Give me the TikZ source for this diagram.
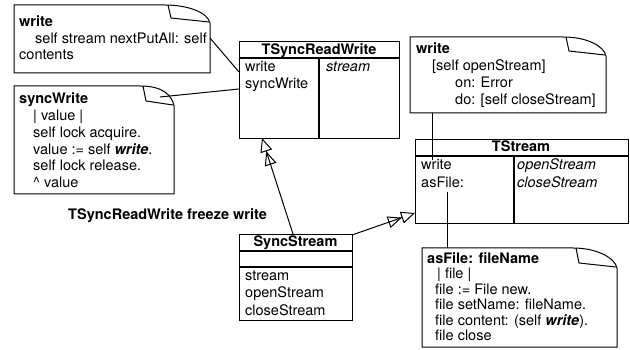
\documentclass[tikz,border=0pt]{standalone}
\usepackage{fontspec}
\setmainfont{TeX Gyre Heros}
\usetikzlibrary{arrows.meta}

\tikzset{
    boxline/.style={line width=1.1pt},
    noteline/.style={line width=1pt},
    link/.style={line width=1pt},
    gen/.style={line width=1pt,
        -{Triangle[open,length=14pt,width=12pt]Triangle[open,length=14pt,width=12pt]}},
    txt/.style={anchor=base west, inner sep=0pt, font=\fontsize{14.5}{17}\selectfont},
    ttl/.style={anchor=base, inner sep=0pt, font=\fontsize{14.5}{17}\selectfont\bfseries},
    classbox/.style={draw, boxline, anchor=north west, inner sep=0pt},
}

% note with folded corner: left, top, right, bottom, fold start, fold depth
\newcommand{\notebox}[6]{%
    \draw[noteline] (#1,#2) -- (#5,#2) .. controls (#5+24,#2) and (#3-2,#2+#6-10) .. (#3,#2+#6)
        -- (#3,#4) -- (#1,#4) -- cycle;
    \draw[noteline] (#5+3,#2) -- (#5+6,#2+#6-5) -- (#3-1,#2+#6-1);}

\begin{document}
\begin{tikzpicture}[x=1pt,y=-1pt]
            \useasboundingbox (0,0) rectangle (630,350);

            % notes
            \notebox{14}{5}{210}{73}{165}{18}
            \node[txt] (n1-0) at (19,27) {\textbf{write}};
            \node[txt] (n1-1) at (35,44) {self stream nextPutAll: self};
            \node[txt] (n1-2) at (19,60) {contents};

            \notebox{14}{86}{174}{194}{140}{20}
            \node[txt] (n2-0) at (19,104) {\textbf{syncWrite}};
            \foreach \t [count=\i] in {\textbar{} value \textbar, self lock acquire.,
                    value := self \textbf{\textit{write}}., self lock release., \textasciicircum{} value}
                \node[txt] (n2-\i) at (33,104+16.7*\i) {\t};

            \notebox{410}{37}{606}{113}{563}{19}
            \node[txt] (n3-0) at (416,54) {\textbf{write}};
            \node[txt] (n3-1) at (432,71) {[self openStream]};
            \node[txt] (n3-2) at (455,88) {on: Error};
            \node[txt] (n3-3) at (455,105) {do: [self closeStream]};

            \notebox{422}{248}{617}{347}{573}{20}
            \node[txt] (n4-0) at (427,263) {\textbf{asFile: fileName}};
            \node[txt] (n4-1) at (437,279) {\textbar{} file \textbar};
            \foreach \t [count=\i] in {file := File new., file setName: fileName.,
                    file content: (self \textbf{\textit{write}})., file close}
                \node[txt] (n4-\i) at (435,279+15.4*\i) {\t};

            % classes
            \node[classbox, minimum width=160pt, minimum height=97pt] (tsrw) at (239,41) {};
            \draw[boxline] (239,58) -- (399,58);
            \draw[boxline] (319,58) -- (319,138);
            \node[ttl] (tsrw-t) at (319,55) {TSyncReadWrite};
            \node[txt] (tsrw-1) at (245,72) {write};
            \node[txt] (tsrw-2) at (245,89) {syncWrite};
            \node[txt] (tsrw-3) at (326,72) {\textit{stream}};

            \node[classbox, minimum width=213pt, minimum height=84pt] (ts) at (415,139) {};
            \draw[boxline] (415,156) -- (628,156);
            \draw[boxline] (514,156) -- (514,223);
            \node[ttl] (ts-t) at (521,152) {TStream};
            \node[txt] (ts-1) at (421,170) {write};
            \node[txt] (ts-2) at (421,188) {asFile:};
            \node[txt] (ts-3) at (517,170) {\textit{openStream}};
            \node[txt] (ts-4) at (517,188) {\textit{closeStream}};

            \node[classbox, minimum width=113pt, minimum height=86pt] (ss) at (239,234) {};
            \draw[boxline] (239,251) -- (352,251);
            \draw[boxline] (239,267) -- (352,267);
            \node[ttl] (ss-t) at (295.5,247) {SyncStream};
            \node[txt] (ss-1) at (245,280) {stream};
            \node[txt] (ss-2) at (245,297.5) {openStream};
            \node[txt] (ss-3) at (245,315) {closeStream};

            \node[txt, font=\fontsize{14.5}{17}\selectfont\bfseries] (frz) at (68,220) {TSyncReadWrite freeze write};

            % connectors
            \coordinate (n1-out) at (210,38);
            \coordinate (n2-out) at (160,97);
            \coordinate (n3-out) at (432,113);
            \coordinate (n4-in) at (447,248);
            \coordinate (tsrw-a) at (239,72);
            \coordinate (tsrw-b) at (239,89);
            \coordinate (tsrw-g) at (262,138);
            \coordinate (ts-f) at (447,192);
            \coordinate (ts-g) at (415,213);
            \coordinate (ss-g) at (293,234);
            \coordinate (ss-h) at (352,235);

            \draw[link] (n1-out) -- (tsrw-a);
            \draw[link] (n2-out) -- (tsrw-b);
            \draw[link] (n3-out) -- (n3-out |- ts-1.north);
            \draw[link] (ts-f) -- (n4-in);
            \draw[gen] (ss-g) -- (tsrw-g);
            \draw[gen] (ss-h) -- (ts-g);
\end{tikzpicture}
\end{document}
